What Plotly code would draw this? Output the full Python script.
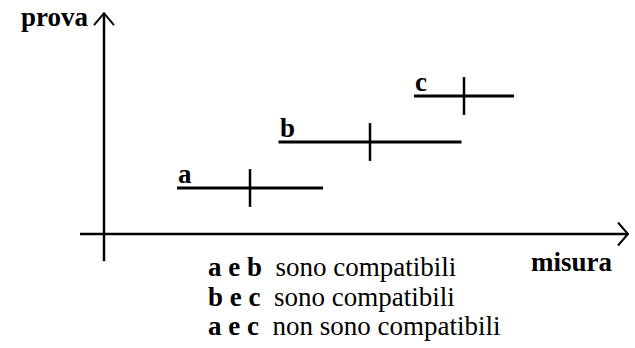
import plotly.graph_objects as go

# Three measurements (label, value, uncertainty) placed on successive trials
etichette = ["a", "b", "c"]
misura = [14.6, 26.6, 36.0]
incertezza = [7.3, 9.15, 5.0]
prova = [1, 2, 3]

conclusioni = [
    "<b>a e b</b>&nbsp;&nbsp;sono compatibili",
    "<b>b e c</b>&nbsp;&nbsp;sono compatibili",
    "<b>a e c</b>&nbsp;&nbsp;non sono compatibili",
]

W, H = 635, 348
# pixel scale of the data units
PX_X = 10.0   # px per unit of "misura"
PX_Y = 46.0   # px per unit of "prova"
X0_PX, Y0_PX = 104, 234  # where the two axes cross

xr = [-X0_PX / PX_X, (W - X0_PX) / PX_X]
yr = [(Y0_PX - H) / PX_Y, Y0_PX / PX_Y]

FONT = "Liberation Serif"
SIZE = 27
NERO = "#000000"

fig = go.Figure()

# horizontal uncertainty bars
for m, e, p in zip(misura, incertezza, prova):
    fig.add_trace(go.Scatter(
        x=[m - e, m + e], y=[p, p], mode="lines",
        line=dict(color=NERO, width=3), hoverinfo="skip", showlegend=False,
    ))

# central value ticks
fig.add_trace(go.Scatter(
    x=misura, y=prova, mode="markers",
    marker=dict(symbol="line-ns", size=27, line=dict(color=NERO, width=2.5)),
    hoverinfo="skip", showlegend=False,
))

# axes with open arrowheads
x_start, x_end = -2.4, 52.4
y_start, y_end = -0.59, 4.80
dx = 10 / PX_X
dy = 12 / PX_Y
shapes = [
    dict(type="line", x0=x_start, x1=x_end, y0=0, y1=0, line=dict(color=NERO, width=2.5)),
    dict(type="line", x0=0, x1=0, y0=y_start, y1=y_end, line=dict(color=NERO, width=2.5)),
    dict(type="path",
         path=f"M {x_end - dx},{11.5 / PX_Y} L {x_end},0 L {x_end - dx},{-11.5 / PX_Y}",
         line=dict(color=NERO, width=2)),
    dict(type="path",
         path=f"M {-1.0},{y_end - dy} L 0,{y_end} L {1.0},{y_end - dy}",
         line=dict(color=NERO, width=2)),
]

annotations = []
# measurement labels just above the left end of each bar
for lab, m, e, p in zip(etichette, misura, incertezza, prova):
    annotations.append(dict(
        x=m - e, y=p, xref="x", yref="y", text=f"<b>{lab}</b>", showarrow=False,
        xanchor="left", yanchor="bottom", xshift=-1, yshift=-3,
        font=dict(family=FONT, size=SIZE, color=NERO),
    ))

# axis titles
annotations.append(dict(
    x=55 / W, y=1 - 17 / H, xref="paper", yref="paper", text="<b>prova</b>",
    showarrow=False, xanchor="center", yanchor="middle",
    font=dict(family=FONT, size=SIZE, color=NERO),
))
annotations.append(dict(
    x=572 / W, y=1 - 262 / H, xref="paper", yref="paper", text="<b>misura</b>",
    showarrow=False, xanchor="center", yanchor="middle",
    font=dict(family=FONT, size=SIZE, color=NERO),
))

# conclusions
for i, t in enumerate(conclusioni):
    annotations.append(dict(
        x=206 / W, y=1 - (267 + 29.5 * i) / H, xref="paper", yref="paper", text=t,
        showarrow=False, xanchor="left", yanchor="middle",
        font=dict(family=FONT, size=SIZE, color=NERO),
    ))

fig.update_layout(
    width=W, height=H,
    margin=dict(l=0, r=0, t=0, b=0),
    paper_bgcolor="white", plot_bgcolor="white",
    xaxis=dict(range=xr, visible=False, fixedrange=True),
    yaxis=dict(range=yr, visible=False, fixedrange=True),
    shapes=shapes, annotations=annotations,
    showlegend=False,
)

fig.write_html("out.html")
